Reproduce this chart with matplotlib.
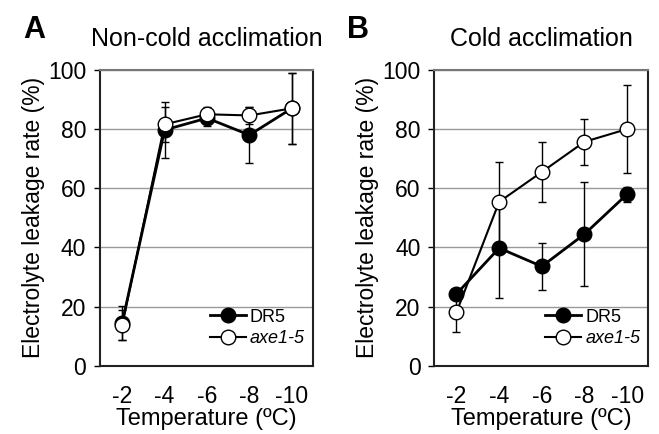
import numpy as np
import matplotlib
matplotlib.use("Agg")
import matplotlib.pyplot as plt
from matplotlib.lines import Line2D

plt.rcParams['font.family'] = ['Liberation Sans', 'DejaVu Sans']

# values
temps = ["-2", "-4", "-6", "-8", "-10"]

# A: non-cold acclimation
a_dr5 = [14.6, 79.7, 83.7, 78.0, 87.0]
a_dr5_err = [5.7, 9.5, 2.8, 9.3, 12.0]
a_axe = [13.9, 81.6, 85.0, 84.6, 87.0]
a_axe_err = [5.0, 5.8, 2.5, 3.0, 12.0]

# B: cold acclimation
b_dr5 = [24.3, 39.8, 33.6, 44.5, 58.0]
b_dr5_err = [1.0, 16.9, 8.0, 17.5, 2.5]
b_axe = [18.1, 55.4, 65.5, 75.7, 80.0]
b_axe_err = [6.8, 13.6, 10.3, 7.8, 14.9]

fig = plt.figure(figsize=(6.59, 4.34), dpi=100)
axA = fig.add_axes([0.152, 0.157, 0.323, 0.682])
axB = fig.add_axes([0.659, 0.157, 0.325, 0.682])

x = np.arange(len(temps))


def panel(ax, dr5, dr5_err, axe, axe_err, title, letter, lx):
    ax.errorbar(x, dr5, yerr=dr5_err, color='black', lw=2, marker='o', ms=10.5,
                mfc='black', mec='black', ecolor='black', elinewidth=1,
                capsize=3, capthick=1, zorder=3)
    ax.errorbar(x, axe, yerr=axe_err, color='black', lw=1.5, marker='o', ms=10.5,
                mfc='white', mec='black', mew=1, ecolor='black', elinewidth=1,
                capsize=3, capthick=1, zorder=4)
    ax.set_xlim(-0.52, 4.5)
    ax.set_ylim(0, 100)
    ax.set_yticks([0, 20, 40, 60, 80, 100])
    ax.set_xticks(x)
    ax.set_xticklabels(temps)
    ax.yaxis.grid(True, color='#999999', lw=1)
    ax.set_axisbelow(True)
    ax.tick_params(axis='y', length=4, width=1, labelsize=16.5, pad=6)
    ax.tick_params(axis='x', length=0, labelsize=16.5, pad=14)
    for s in ['left', 'bottom', 'right']:
        ax.spines[s].set_linewidth(1.5)
        ax.spines[s].set_color('#222222')
    ax.spines['top'].set_color('#777777')
    ax.spines['top'].set_linewidth(1.5)
    ax.set_xlabel("Temperature (ºC)", fontsize=17, labelpad=0)
    ax.set_ylabel("Electrolyte leakage rate (%)", fontsize=16.5, labelpad=2)
    ax.set_title(title, fontsize=18, pad=17)
    fig.text(lx, 0.93, letter, fontsize=22, fontweight='bold', ha='left', va='center')
    handles = [
        Line2D([], [], color='black', lw=2, marker='o', ms=10.5, mfc='black', mec='black'),
        Line2D([], [], color='black', lw=1.5, marker='o', ms=10.5, mfc='white', mec='black'),
    ]
    leg = ax.legend(handles, ["DR5", "axe1-5"], loc='lower right', frameon=False,
                    fontsize=13, handlelength=2.0, handletextpad=0.2, labelspacing=0.25,
                    borderaxespad=0.3, bbox_to_anchor=(1.02, 0.02))
    leg.get_texts()[1].set_fontstyle('italic')


panel(axA, a_dr5, a_dr5_err, a_axe, a_axe_err, "Non-cold acclimation", "A", 0.035)
panel(axB, b_dr5, b_dr5_err, b_axe, b_axe_err, "Cold acclimation", "B", 0.527)

fig.savefig("out.png", dpi=100)
